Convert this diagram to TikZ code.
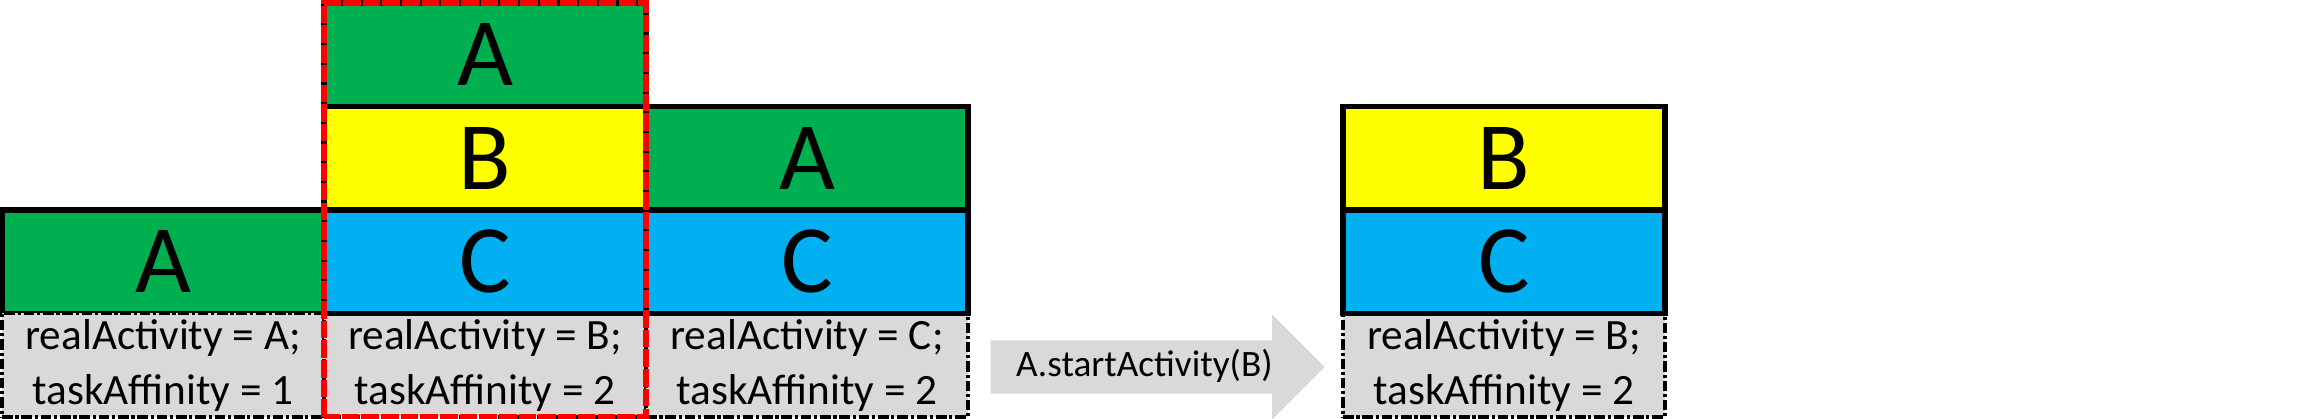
\documentclass[tikz,border=0pt]{standalone}
\usepackage{fontspec}
\setmainfont{Carlito}
\usetikzlibrary{positioning,shapes.arrows}
\definecolor{actGreen}{RGB}{0,176,80}
\definecolor{actYellow}{RGB}{255,255,0}
\definecolor{actBlue}{RGB}{0,176,240}
\definecolor{recGray}{RGB}{217,217,217}
\definecolor{taskRed}{RGB}{255,0,0}
\tikzset{
  actbox/.style={draw=black, line width=1.7pt, minimum width=3.22cm,
    minimum height=1.035cm, inner sep=0pt, outer sep=0pt,
    font=\fontsize{27.5}{32}\selectfont},
  actA/.style={actbox, fill=actGreen},
  actB/.style={actbox, fill=actYellow},
  actC/.style={actbox, fill=actBlue},
  recbox/.style={draw=black, fill=recGray, line width=1.05pt,
    dash pattern=on 3pt off 0.8pt on 0.9pt off 0.8pt,
    minimum width=3.22cm, minimum height=1.035cm, inner sep=0pt, outer sep=0pt,
    align=center, font=\fontsize{12.3}{15.5}\selectfont},
  taskframe/.style={draw=taskRed, line width=1.8pt, dash pattern=on 5pt off 0.6pt},
  callarrow/.style={single arrow, fill=recGray, single arrow head extend=0.26cm,
    minimum height=3.34cm, inner xsep=0.1cm, inner ysep=0.085cm,
    text height=0.27cm, text depth=0.08cm, font=\fontsize{10.6}{12}\selectfont},
}

\begin{document}
\begin{tikzpicture}
  \useasboundingbox (0,0) rectangle (23.12,4.19);
  % --- task 1: only A ---
  \node[actA] (a1) at (1.63,1.5725) {A};
  \node[recbox, below=0pt of a1] (rec1) {realActivity = A;\\ taskAffinity = 1};
  % --- task 2: C, B, A ---
  \node[recbox] (rec2) at (4.85,0.5375) {realActivity = B;\\ taskAffinity = 2};
  \node[actC, above=0pt of rec2] (c2) {C};
  \node[actB, above=0pt of c2] (b2) {B};
  \node[actA, above=0pt of b2] (a2) {A};
  % --- task 3: C, A ---
  \node[recbox] (rec3) at (8.07,0.5375) {realActivity = C;\\ taskAffinity = 2};
  \node[actC, above=0pt of rec3] (c3) {C};
  \node[actA, above=0pt of c3] (a3) {A};
  % frame around task 2
  \draw[taskframe] (rec2.south west) rectangle (a2.north east);
  % the call
  \node[callarrow, anchor=tail] (call) at (9.9,0.52) {A.startActivity(B)};
  % --- result: task 2 after the call ---
  \node[recbox] (rec4) at (15.04,0.5375) {realActivity = B;\\ taskAffinity = 2};
  \node[actC, above=0pt of rec4] (c4) {C};
  \node[actB, above=0pt of c4] (b4) {B};
\end{tikzpicture}
\end{document}
